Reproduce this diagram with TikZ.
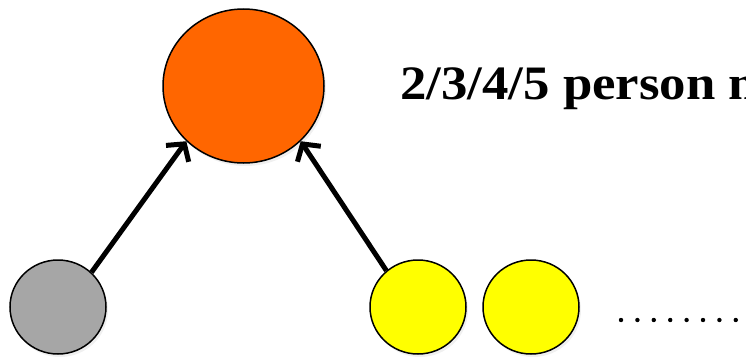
\documentclass[tikz,border=0pt]{standalone}
\usepackage{fontspec}
\setmainfont{Liberation Serif}
\usetikzlibrary{arrows.meta,shapes.geometric,shadows}

\definecolor{headorange}{HTML}{FF6600}
\definecolor{membergray}{HTML}{A6A6A6}
\definecolor{memberyellow}{HTML}{FFFF00}

\tikzset{
    person/.style={ellipse, draw=black, line width=1.5pt, minimum width=96pt, minimum height=94pt, inner sep=0pt,
        drop shadow={opacity=0.12, shadow xshift=2pt, shadow yshift=-3pt}},
    link/.style={line width=5pt, -{Straight Barb[length=12pt,width=28pt,line width=5pt]}}
}

\begin{document}
\begin{tikzpicture}[x=1pt, y=-1pt]
    \def\yb{307};
    \def\dy{16.4};

    \clip (0,0) rectangle (746,356);

% head of the group
    \node[person, fill=headorange, minimum width=161pt, minimum height=154pt] (head) at (243.5,86) {};

% members
    \node[person, fill=membergray] (grey) at (58,\yb) {};
    \node[person, fill=memberyellow] (yellowA) at (418,\yb) {};
    \node[person, fill=memberyellow] (yellowB) at (531,\yb) {};

% links
    \draw[link] (grey.46) -- (head.-136);
    \draw[link] (yellowA.131) -- (head.-44);

% label
    \node[anchor=base west, inner sep=0pt, xscale=1.1, font=\bfseries\fontsize{48}{52}\selectfont] (title) at (400,99) {2/3/4/5 person m};

% more members
    \foreach \i in {0,...,7}
        \fill (621+\i*\dy, 320) circle (2.2pt);
\end{tikzpicture}
\end{document}
